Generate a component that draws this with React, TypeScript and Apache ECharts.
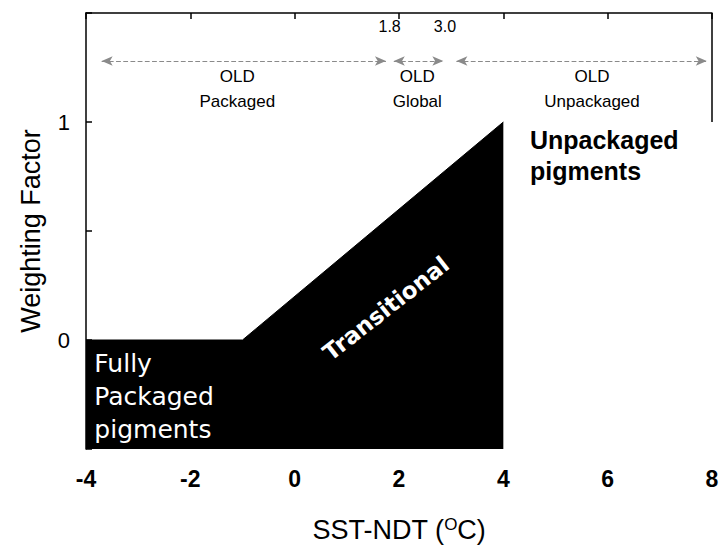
import React, { useEffect, useRef } from "react";
import * as echarts from "echarts";

// Weighting-factor shape (SST-NDT vs weight)
const shapeX = [-4, -1, 4];
const shapeY = [0, 0, 1];

// Dotted double arrows delimiting OLD domains
const arrowFrom = [-3.7, 1.9, 3.1];
const arrowTo = [1.75, 2.85, 7.9];
const arrowLevel = 1.28;

// Boundary labels
const boundaryValues = [1.8, 3.0];
const boundaryLabelX = [1.82, 2.88];
const boundaryLabelY = 1.44;

// Region labels
const regionNames = ["OLD\nPackaged", "OLD\nGlobal", "OLD\nUnpackaged"];
const regionX = [-1.1, 2.35, 5.7];
const regionY = 1.15;

// Right frame fragment
const rightEdgeX = [8, 8];
const rightEdgeY = [1.5, 1.0];

const FONT = "'Liberation Sans', Arial, sans-serif";

export default function App() {
  const ref = useRef<HTMLDivElement>(null);
  useEffect(() => {
    if (!ref.current) return;
    const chart = echarts.init(ref.current, null, { renderer: "svg" });
    const textSeries = (data: any[], label: any, z = 10) => ({
      type: "scatter",
      xAxisIndex: 0,
      yAxisIndex: 0,
      symbol: "circle",
      symbolSize: 0,
      itemStyle: { color: "#000", opacity: 1 },
      silent: true,
      z,
      data,
      label: {
        show: true,
        formatter: "{b}",
        fontFamily: FONT,
        opacity: 1,
        textBorderWidth: 0,
        ...label,
      },
    });
    chart.setOption({
      animation: false,
      backgroundColor: "#fff",
      grid: { left: 86, right: 13, top: 13, bottom: 84 },
      xAxis: [
        {
          type: "value",
          min: -4,
          max: 8,
          interval: 2,
          position: "bottom",
          axisLine: { show: false, onZero: false },
          axisTick: { show: false },
          splitLine: { show: false },
          axisLabel: {
            margin: 18,
            fontSize: 23,
            fontWeight: "bold",
            color: "#000",
            fontFamily: FONT,
          },
          name: "SST-NDT ({sup|O}C)",
          nameLocation: "middle",
          nameGap: 67,
          nameTextStyle: {
            fontSize: 27,
            color: "#000",
            fontFamily: FONT,
            rich: {
              sup: {
                fontSize: 17,
                verticalAlign: "top",
                padding: [0, 0, 10, 0],
                color: "#000",
                fontFamily: FONT,
              },
            },
          },
        },
        {
          type: "value",
          min: -4,
          max: 8,
          interval: 2,
          position: "top",
          axisLine: { show: true, onZero: false, lineStyle: { color: "#000", width: 1.5 } },
          axisTick: { show: true, inside: true, length: 6, lineStyle: { color: "#000", width: 1.5 } },
          axisLabel: { show: false },
          splitLine: { show: false },
        },
      ],
      yAxis: {
        type: "value",
        min: -0.5,
        max: 1.5,
        interval: 0.5,
        axisLine: { show: true, onZero: false, lineStyle: { color: "#000", width: 1.5 } },
        axisTick: { show: true, inside: true, length: 6, lineStyle: { color: "#000", width: 1.5 } },
        splitLine: { show: false },
        axisLabel: {
          margin: 16,
          fontSize: 22,
          color: "#000",
          fontFamily: FONT,
          formatter: (v: number) => (v === 0 || v === 1 ? String(v) : ""),
        },
        name: "Weighting Factor",
        nameLocation: "middle",
        nameGap: 42,
        nameTextStyle: { fontSize: 27, color: "#000", fontFamily: FONT },
      },
      series: [
        {
          type: "line",
          xAxisIndex: 0,
          yAxisIndex: 0,
          data: shapeX.map((x, i) => [x, shapeY[i]]),
          symbol: "none",
          lineStyle: { color: "#000", width: 1 },
          areaStyle: { color: "#000", opacity: 1, origin: "start" },
          z: 3,
          silent: true,
        },
        {
          type: "line",
          xAxisIndex: 0,
          yAxisIndex: 0,
          data: rightEdgeX.map((x, i) => [x, rightEdgeY[i]]),
          symbol: "none",
          lineStyle: { color: "#000", width: 1.5 },
          silent: true,
        },
        {
          type: "line",
          xAxisIndex: 0,
          yAxisIndex: 0,
          data: [],
          markLine: {
            silent: true,
            symbol: ["arrow", "arrow"],
            symbolSize: [7, 11],
            label: { show: false },
            lineStyle: { type: "dashed", color: "#8a8a8a", width: 1.2 },
            data: arrowFrom.map((a, i) => [
              { coord: [a, arrowLevel] },
              { coord: [arrowTo[i], arrowLevel] },
            ]),
          },
        },
        textSeries(
          boundaryLabelX.map((x, i) => ({ value: [x, boundaryLabelY], name: boundaryValues[i].toFixed(1) })),
          { position: "inside", fontSize: 16, color: "#000" }
        ),
        textSeries(
          regionX.map((x, i) => ({ value: [x, regionY], name: regionNames[i] })),
          { position: "inside", fontSize: 17, lineHeight: 25, color: "#000" }
        ),
        textSeries(
          [{ value: [4.51, 0.845], name: "Unpackaged\npigments" }],
          { position: "right", distance: 0, fontSize: 25, fontWeight: "bold", lineHeight: 31, color: "#000" }
        ),
        textSeries(
          [{ value: [-3.84, -0.26], name: "Fully\nPackaged\npigments" }],
          {
            position: "right",
            distance: 0,
            fontSize: 25,
            lineHeight: 33,
            color: "#fff",
            fontFamily: "'DejaVu Sans', sans-serif",
          }
        ),
        textSeries(
          [{ value: [1.75, 0.145], name: "Transitional" }],
          {
            position: "inside",
            rotate: 38,
            fontSize: 23,
            fontWeight: "bold",
            color: "#fff",
            fontFamily: "'DejaVu Sans', sans-serif",
          }
        ),
      ],
    });
    return () => chart.dispose();
  }, []);
  return (
    <div
      ref={ref}
      style={{ position: "fixed", left: 0, top: 0, width: 725, height: 548 }}
    />
  );
}
